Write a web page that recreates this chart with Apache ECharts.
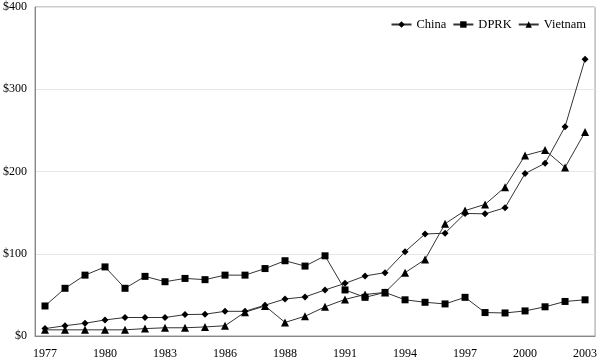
<!DOCTYPE html>
<html>
<head>
<meta charset="utf-8">
<script src="https://cdn.jsdelivr.net/npm/echarts@6/dist/echarts.min.js"></script>
<style>html,body{margin:0;padding:0;background:#fff}#c{width:600px;height:360px}</style>
</head>
<body>
<div id="c"></div>
<script>
var years = ['1977','1978','1979','1980','1981','1982','1983','1984','1985','1986','1987','1987','1988','1989','1990','1991','1992','1993','1994','1995','1996','1997','1998','1999','2000','2001','2002','2003'];
var china = [9,12.5,15.5,19.5,22.5,22.5,22.5,26,26.5,30,30,37.5,45,47.5,56,64,73,77,102.5,124,125,149,148.5,156,197.5,210,254.5,336.5];
var dprk = [36.5,58,74,84,58,72.5,66,70,68.5,74,74,82,91.5,85,97.5,56,47,53,44,41,39,47,28.5,28,30.5,35.5,42,44];
var vietnam = [7.5,7.5,7.5,7.5,7.5,9,10,10,11,12.5,29,36.5,16.5,24,35.5,44.5,50.5,53,77,93,136.5,152.5,160,181,219.5,226,205,248];
var yTicks = {min:0, max:400, interval:100};

var font = 'Liberation Serif';
var chart = echarts.init(document.getElementById('c'), null, {renderer:'canvas'});
function mk(name, data, sym, size){
  return {name:name, type:'line', data:data, symbol:sym, symbolSize:size,
    lineStyle:{color:'#333', width:1}, itemStyle:{color:'#000'},
    emphasis:{disabled:true}};
}
chart.setOption({
  animation:false,
  grid:{left:35, right:2, top:7, bottom:23, show:true, borderColor:'#999', borderWidth:1},
  legend:{top:13, right:9, itemWidth:20, itemHeight:8, itemGap:6,
    textStyle:{fontFamily:font, fontSize:12.5, color:'#000'},
    data:['China','DPRK','Vietnam']},
  xAxis:{type:'category', data:years, boundaryGap:true,
    axisLine:{lineStyle:{color:'#888'}},
    axisTick:{interval:2, length:4, lineStyle:{color:'#888'}},
    axisLabel:{interval:2, margin:12, fontFamily:font, fontSize:12, color:'#000'}},
  yAxis:{type:'value', min:yTicks.min, max:yTicks.max, interval:yTicks.interval,
    axisLine:{show:true, lineStyle:{color:'#888'}},
    axisTick:{show:false},
    splitLine:{lineStyle:{color:'#e6e6e6'}},
    axisLabel:{margin:8, fontFamily:font, fontSize:12, color:'#000', formatter:function(v){return '$'+v;}}},
  series:[mk('China', china, 'diamond', 7), mk('DPRK', dprk, 'rect', 7), mk('Vietnam', vietnam, 'triangle', 8)]
});
</script>
</body>
</html>
